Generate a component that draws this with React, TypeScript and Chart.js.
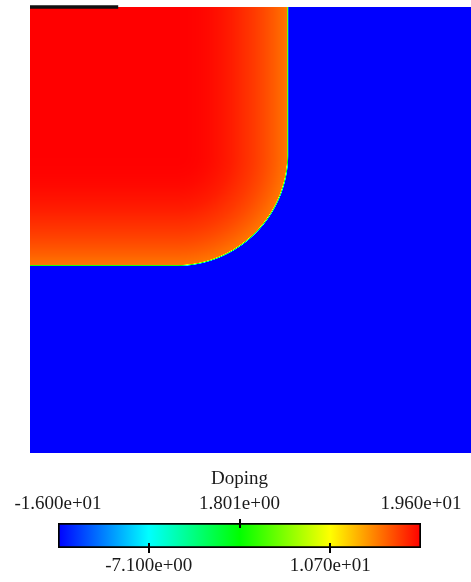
import { useEffect, useRef } from 'react';
import { Chart, registerables } from 'chart.js';

Chart.register(...registerables);

// Simulated device cross-section extent (µm)
const DEVICE_WIDTH = 4.0;
const DEVICE_DEPTH = 4.05;

// Edges of the implant window (µm); inside it the doping is at its peak
const WINDOW_X_EDGE = 1.33;
const WINDOW_Y_EDGE = 1.34;

// Metal contact on the top surface (µm)
const CONTACT_X = [0, 0.8];

// Signed log10 doping versus distance beyond the implant window (µm)
const PROFILE_DISTANCE = [0, 0.1, 0.2, 0.3, 0.4, 0.5, 0.6, 0.7, 0.8, 0.9, 1.0, 1.008, 1.016];
const PROFILE_DOPING = [19.6, 19.55, 19.45, 19.25, 18.95, 18.6, 18.1, 17.6, 17.0, 16.3, 15.5, 1.8, -16.0];
const SUBSTRATE_DOPING = -16.0;

// Colour scale
const SCALE_MIN = -16.0;
const SCALE_MAX = 19.6;
const COLOR_STOPS = [0, 0.25, 0.5, 0.75, 1];
const COLOR_RGB = [
  [0, 0, 255],
  [0, 255, 255],
  [0, 255, 0],
  [255, 255, 0],
  [255, 0, 0],
];
const TOP_TICKS = [-16.0, 1.801, 19.6];
const TOP_TICK_LABELS = ['-1.600e+01', '1.801e+00', '1.960e+01'];
const BOTTOM_TICKS = [-7.1, 10.7];
const BOTTOM_TICK_LABELS = ['-7.100e+00', '1.070e+01'];

const FONT_FAMILY = "'Liberation Serif', 'DejaVu Serif', serif";
const TEXT_COLOR = '#1a1a1a';

function dopingAt(d: number): number {
  const n = PROFILE_DISTANCE.length;
  if (d <= PROFILE_DISTANCE[0]) return PROFILE_DOPING[0];
  if (d >= PROFILE_DISTANCE[n - 1]) return SUBSTRATE_DOPING;
  for (let k = 1; k < n; k++) {
    if (d <= PROFILE_DISTANCE[k]) {
      const a = PROFILE_DISTANCE[k - 1];
      const b = PROFILE_DISTANCE[k];
      const f = (d - a) / (b - a);
      return PROFILE_DOPING[k - 1] + f * (PROFILE_DOPING[k] - PROFILE_DOPING[k - 1]);
    }
  }
  return SUBSTRATE_DOPING;
}

function colorFor(v: number): number[] {
  let t = (v - SCALE_MIN) / (SCALE_MAX - SCALE_MIN);
  t = Math.max(0, Math.min(1, t));
  for (let k = 1; k < COLOR_STOPS.length; k++) {
    if (t <= COLOR_STOPS[k]) {
      const f = (t - COLOR_STOPS[k - 1]) / (COLOR_STOPS[k] - COLOR_STOPS[k - 1]);
      const c0 = COLOR_RGB[k - 1];
      const c1 = COLOR_RGB[k];
      return [0, 1, 2].map((i) => Math.round(c0[i] + f * (c1[i] - c0[i])));
    }
  }
  return COLOR_RGB[COLOR_RGB.length - 1];
}

// Paints the doping field into the plot area, pixel by pixel, through the x/y scales
const dopingFieldPlugin = {
  id: 'dopingField',
  beforeDatasetsDraw(chart: any) {
    const { ctx, chartArea, scales } = chart;
    const left = Math.round(chartArea.left);
    const top = Math.round(chartArea.top);
    const w = Math.round(chartArea.right) - left;
    const h = Math.round(chartArea.bottom) - top;
    if (w <= 0 || h <= 0) return;
    const off = document.createElement('canvas');
    off.width = w;
    off.height = h;
    const octx = off.getContext('2d')!;
    const img = octx.createImageData(w, h);
    const xv = new Float64Array(w);
    const yv = new Float64Array(h);
    for (let i = 0; i < w; i++) xv[i] = scales.x.getValueForPixel(left + i + 0.5);
    for (let j = 0; j < h; j++) yv[j] = scales.y.getValueForPixel(top + j + 0.5);
    let p = 0;
    for (let j = 0; j < h; j++) {
      const dy = Math.max(0, yv[j] - WINDOW_Y_EDGE);
      for (let i = 0; i < w; i++) {
        const dx = Math.max(0, xv[i] - WINDOW_X_EDGE);
        const c = colorFor(dopingAt(Math.hypot(dx, dy)));
        img.data[p++] = c[0];
        img.data[p++] = c[1];
        img.data[p++] = c[2];
        img.data[p++] = 255;
      }
    }
    octx.putImageData(img, 0, 0);
    ctx.drawImage(off, left, top);
  },
};

// Short tick marks crossing the colour bar's frame
const colorbarTicksPlugin = {
  id: 'colorbarTicks',
  afterDatasetsDraw(chart: any) {
    const bar = chart.getDatasetMeta(0).data[0];
    if (!bar) return;
    const { ctx, scales } = chart;
    const top = bar.y - bar.height / 2;
    const bottom = bar.y + bar.height / 2;
    ctx.save();
    ctx.strokeStyle = '#000';
    ctx.lineWidth = 2;
    ctx.beginPath();
    BOTTOM_TICKS.forEach((v) => {
      const x = Math.round(scales.x.getPixelForValue(v));
      ctx.moveTo(x, bottom - 5);
      ctx.lineTo(x, bottom + 5);
    });
    TOP_TICKS.filter((v) => v > SCALE_MIN && v < SCALE_MAX).forEach((v) => {
      const x = Math.round(scales.x2.getPixelForValue(v));
      ctx.moveTo(x, top - 4);
      ctx.lineTo(x, top + 5);
    });
    ctx.stroke();
    ctx.restore();
  },
};

export default function App() {
  const fieldRef = useRef<HTMLCanvasElement>(null);
  const barRef = useRef<HTMLCanvasElement>(null);

  useEffect(() => {
    const field = new Chart(fieldRef.current!, {
      type: 'scatter',
      data: {
        datasets: [
          {
            data: CONTACT_X.map((x) => ({ x, y: 0 })),
            showLine: true,
            borderColor: '#111',
            borderWidth: 3.5,
            pointRadius: 0,
            clip: false,
          } as any,
        ],
      },
      options: {
        animation: false,
        responsive: false,
        devicePixelRatio: 1,
        events: [],
        layout: { padding: { left: 30, top: 7, right: 0, bottom: 7 } },
        scales: {
          x: { type: 'linear', min: 0, max: DEVICE_WIDTH, display: false },
          y: { type: 'linear', min: 0, max: DEVICE_DEPTH, reverse: true, display: false },
        },
        plugins: { legend: { display: false }, tooltip: { enabled: false } },
      },
      plugins: [dopingFieldPlugin],
    });

    const tickFont = { family: FONT_FAMILY, size: 19, weight: 'normal' as const, lineHeight: 1.2 };
    const colorbar = new Chart(barRef.current!, {
      type: 'bar',
      data: {
        labels: ['Doping'],
        datasets: [
          {
            data: [[SCALE_MIN, SCALE_MAX]],
            xAxisID: 'x',
            yAxisID: 'y',
            borderColor: '#000',
            borderWidth: 2,
            borderSkipped: false,
            barPercentage: 1,
            categoryPercentage: 1,
            backgroundColor: (c: any) => {
              const ch = c.chart;
              if (!ch.chartArea) return '#000';
              const x0 = ch.scales.x.getPixelForValue(SCALE_MIN);
              const x1 = ch.scales.x.getPixelForValue(SCALE_MAX);
              const g = ch.ctx.createLinearGradient(x0, 0, x1, 0);
              COLOR_STOPS.forEach((s, k) => {
                const [r, gg, b] = COLOR_RGB[k];
                g.addColorStop(s, `rgb(${r},${gg},${b})`);
              });
              return g;
            },
          } as any,
        ],
      },
      options: {
        indexAxis: 'y',
        animation: false,
        responsive: false,
        devicePixelRatio: 1,
        events: [],
        layout: { padding: { left: 58, right: 50, top: 0, bottom: 0 } },
        scales: {
          y: { type: 'category', display: false },
          x: {
            type: 'linear',
            position: 'bottom',
            min: SCALE_MIN,
            max: SCALE_MAX,
            grid: { display: false, drawTicks: false },
            border: { display: false },
            afterBuildTicks: (axis: any) => {
              axis.ticks = BOTTOM_TICKS.map((value) => ({ value }));
            },
            afterFit: (axis: any) => {
              axis.height = 34;
            },
            ticks: {
              autoSkip: false,
              maxRotation: 0,
              minRotation: 0,
              padding: 6.6,
              font: tickFont,
              color: TEXT_COLOR,
              callback: (_v: any, i: number) => BOTTOM_TICK_LABELS[i],
            },
          },
          x2: {
            type: 'linear',
            position: 'top',
            min: SCALE_MIN,
            max: SCALE_MAX,
            grid: { display: false, drawTicks: false },
            border: { display: false },
            afterBuildTicks: (axis: any) => {
              axis.ticks = TOP_TICKS.map((value) => ({ value }));
            },
            afterFit: (axis: any) => {
              axis.height = 32.2;
            },
            ticks: {
              autoSkip: false,
              maxRotation: 0,
              minRotation: 0,
              padding: 7.6,
              font: tickFont,
              color: TEXT_COLOR,
              callback: (_v: any, i: number) => TOP_TICK_LABELS[i],
            },
          },
        },
        plugins: {
          legend: { display: false },
          tooltip: { enabled: false },
          title: {
            display: true,
            text: 'Doping',
            color: TEXT_COLOR,
            font: tickFont,
            padding: { top: 8, bottom: 0 },
          },
        },
      } as any,
      plugins: [colorbarTicksPlugin],
    });

    return () => {
      field.destroy();
      colorbar.destroy();
    };
  }, []);

  return (
    <div style={{ position: 'absolute', left: 0, top: 0, width: 471, height: 582, background: '#fff' }}>
      <canvas ref={fieldRef} width={471} height={460} style={{ position: 'absolute', left: 0, top: 0 }} />
      <canvas ref={barRef} width={471} height={122} style={{ position: 'absolute', left: 0, top: 460 }} />
    </div>
  );
}
